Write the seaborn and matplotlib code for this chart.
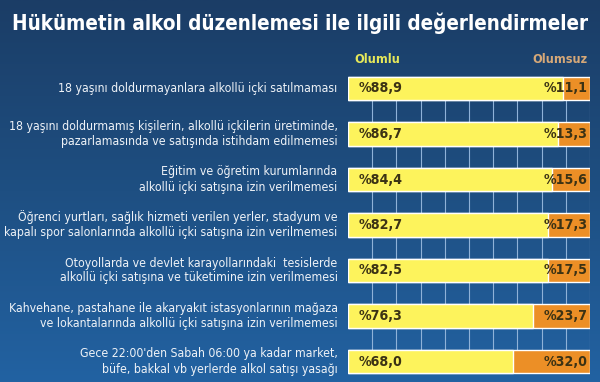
import numpy as np
import pandas as pd
import matplotlib
matplotlib.use("Agg")
import matplotlib.pyplot as plt
from matplotlib import font_manager as fm
from matplotlib.colors import LinearSegmentedColormap
import seaborn as sns

# data
statements = [
    "18 yaşını doldurmayanlara alkollü içki satılmaması",
    "18 yaşını doldurmamış kişilerin, alkollü içkilerin üretiminde,\npazarlamasında ve satışında istihdam edilmemesi",
    "Eğitim ve öğretim kurumlarında\nalkollü içki satışına izin verilmemesi",
    "Öğrenci yurtları, sağlık hizmeti verilen yerler, stadyum ve\nkapalı spor salonlarında alkollü içki satışına izin verilmemesi",
    "Otoyollarda ve devlet karayollarındaki  tesislerde\nalkollü içki satışına ve tüketimine izin verilmemesi",
    "Kahvehane, pastahane ile akaryakıt istasyonlarının mağaza\nve lokantalarında alkollü içki satışına izin verilmemesi",
    "Gece 22:00'den Sabah 06:00 ya kadar market,\nbüfe, bakkal vb yerlerde alkol satışı yasağı",
]
olumlu = [88.9, 86.7, 84.4, 82.7, 82.5, 76.3, 68.0]
olumsuz = [11.1, 13.3, 15.6, 17.3, 17.5, 23.7, 32.0]

df = pd.DataFrame({"statement": statements, "olumlu": olumlu, "olumsuz": olumsuz})
df["total"] = df["olumlu"] + df["olumsuz"]

YELLOW = "#fdf35c"
ORANGE = "#ec8f26"
TEXT_DARK = "#3b3214"

sns.set_theme(style="white")
plt.rcParams["font.family"] = ["DejaVu Sans"]


# look for an upright condensed / narrow face, fall back to Liberation Sans
def pick_font(bold):
    want = "bold" if bold else "normal"
    for f in fm.fontManager.ttflist:
        narrow = ("Narrow" in f.name or "Condensed" in f.name
                  or str(f.stretch) in ("condensed", "semi-condensed", "75", "87"))
        is_bold = f.weight in ("bold", 700, "700")
        upright = f.style == "normal" and "Oblique" not in f.fname and "Italic" not in f.fname
        if (narrow and upright and is_bold == bold
                and "Mono" not in f.name and "Serif" not in f.name):
            return fm.FontProperties(fname=f.fname)
    return fm.FontProperties(family="Liberation Sans", weight=want)


FP_REG = pick_font(False)
FP_BOLD = pick_font(True)

fig = plt.figure(figsize=(6, 3.82), dpi=100)
W, H = 600, 382
renderer = fig.canvas.get_renderer()


def fit(txt, width_px, size):
    # scale text so it spans width_px
    txt.set_fontsize(size)
    w = txt.get_window_extent(renderer).width
    txt.set_fontsize(size * width_px / w)


# background gradient
bg = fig.add_axes([0, 0, 1, 1])
cmap = LinearSegmentedColormap.from_list("bg", ["#1b3d66", "#1e4f82", "#2262a2"])
bg.imshow(np.linspace(0, 1, 256).reshape(-1, 1), aspect="auto", cmap=cmap,
          extent=[0, 1, 0, 1])
bg.set_axis_off()

title = fig.text(0.5, 1 - 23 / H, "Hükümetin alkol düzenlemesi ile ilgili değerlendirmeler",
                 ha="center", va="center", color="white", fontproperties=FP_BOLD)
fit(title, 578, 16)

ax = fig.add_axes([348 / W, 0, (590 - 348) / W, 1 - 66 / H])
ax.patch.set_alpha(0)

# stacked: orange full bar, yellow positive share on top
sns.barplot(data=df, x="total", y="statement", color=ORANGE, width=0.51,
            saturation=1, ax=ax, zorder=3)
sns.barplot(data=df, x="olumlu", y="statement", color=YELLOW, width=0.51,
            saturation=1, ax=ax, zorder=4)

# vertical grid only between bars
ax.vlines(np.arange(10, 101, 10), -0.25, len(df) - 0.75,
          color="#8fb2d8", lw=0.8, zorder=2)

ax.set_xlim(0, 100)
ax.set_ylim((382 - 88.5) / 45.5, -22.5 / 45.5)
ax.set_axis_off()

labels = []
for i, row in df.iterrows():
    t = ax.text(-4.3, i, row["statement"], ha="right", va="center", color="#eef2f7",
                fontproperties=FP_REG, linespacing=1.2, clip_on=False)
    labels.append(t)
    t1 = ax.text(4.5, i, "%" + f"{row['olumlu']:.1f}".replace(".", ","),
                 ha="left", va="center", color=TEXT_DARK,
                 fontproperties=FP_BOLD, zorder=6)
    t2 = ax.text(99, i, "%" + f"{row['olumsuz']:.1f}".replace(".", ","),
                 ha="right", va="center", color=TEXT_DARK,
                 fontproperties=FP_BOLD, zorder=6)
    fit(t1, 44, 12)
    t2.set_fontsize(t1.get_fontsize())

# widest label runs from about x=4 to x=338
for t in labels:
    t.set_fontsize(9)
widest = max(labels, key=lambda t: t.get_window_extent(renderer).width)
fit(widest, 333, 9)
for t in labels:
    t.set_fontsize(widest.get_fontsize())

h1 = ax.text(2.8, -0.64, "Olumlu", ha="left", va="center", color="#e6e85a",
             fontproperties=FP_BOLD, clip_on=False)
fit(h1, 45, 10)
h2 = ax.text(98.8, -0.64, "Olumsuz", ha="right", va="center", color="#d6a878",
             fontproperties=FP_BOLD, clip_on=False)
h2.set_fontsize(h1.get_fontsize())

fig.savefig("out.png", dpi=100)
